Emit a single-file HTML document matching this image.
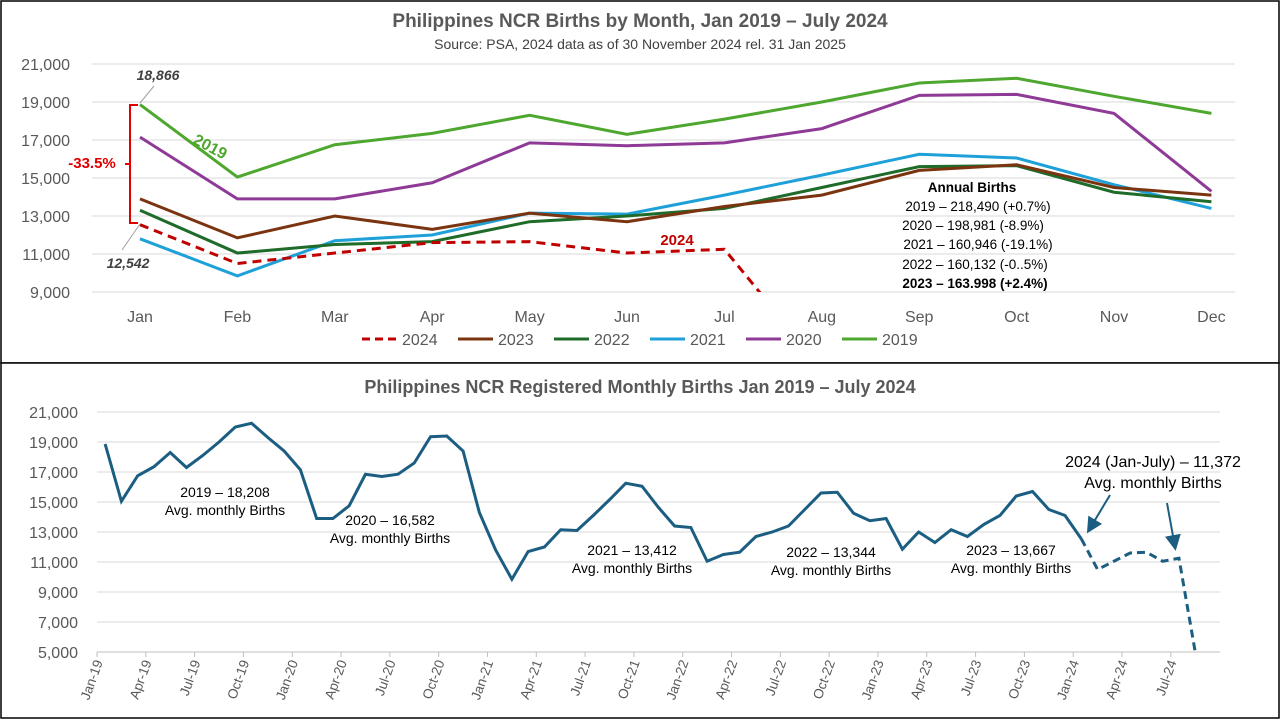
<!DOCTYPE html>
<html><head><meta charset="utf-8"><style>
body{margin:0;background:#fff;font-family:"Liberation Sans",sans-serif}
svg text{font-family:"Liberation Sans",sans-serif}
</style></head><body>
<svg id="s" width="1280" height="720" xmlns="http://www.w3.org/2000/svg">
<rect x="1" y="1" width="1278" height="362" fill="#fff" stroke="#000" stroke-width="1.5"/>
<rect x="1" y="363" width="1278" height="355" fill="#fff" stroke="#000" stroke-width="1.5"/>
<g id="top"></g><g id="bot"></g>
</svg>
<script>
const months=["Jan","Feb","Mar","Apr","May","Jun","Jul","Aug","Sep","Oct","Nov","Dec"];
const topTicks=[9000,11000,13000,15000,17000,19000,21000];
const y2019=[18866,15050,16750,17350,18300,17300,18100,19000,20000,20250,19300,18400];
const y2020=[17150,13900,13900,14750,16850,16700,16850,17600,19350,19400,18400,14300];
const y2021=[11800,9850,11700,12000,13150,13100,14100,15150,16250,16050,14650,13400];
const y2022=[13300,11050,11500,11650,12700,13000,13400,14500,15600,15650,14250,13750];
const y2023=[13900,11850,13000,12300,13150,12700,13500,14100,15400,15700,14500,14100];
const y2024=[12542,10500,11050,11600,11650,11050,11250,5000];
const botTicks=[5000,7000,9000,11000,13000,15000,17000,19000,21000];
const NS="http://www.w3.org/2000/svg";
function el(p,t,a,txt){const e=document.createElementNS(NS,t);for(const k in a)e.setAttribute(k,a[k]);if(txt!==undefined)e.textContent=txt;p.appendChild(e);return e;}
const T=document.getElementById('top'),B=document.getElementById('bot');
const tx=i=>140+i*97.4, ty=v=>292-(v-9000)*0.019;
el(T,'text',{x:640,y:27,'text-anchor':'middle','font-size':19,'font-weight':'bold',fill:'#595959',},'Philippines NCR Births by Month, Jan 2019 – July 2024');
el(T,'text',{x:640,y:49,'text-anchor':'middle','font-size':14,fill:'#404040',},'Source: PSA, 2024 data as of 30 November 2024 rel. 31 Jan 2025');
topTicks.forEach(v=>{
 const g=el(T,'line',{x1:92,x2:1235,y1:ty(v),y2:ty(v),stroke:'#d9d9d9'});
 
 const t=el(T,'text',{x:70,y:ty(v)+6,'text-anchor':'end','font-size':16,fill:'#595959'},v.toLocaleString('en-US'));
 
});
months.forEach((m,i)=>{const t=el(T,'text',{x:tx(i),y:322,'text-anchor':'middle','font-size':16,fill:'#595959'},m);
 });
const defs=el(document.getElementById('s'),'defs',{});
const cp=el(defs,'clipPath',{id:'ct'});el(cp,'rect',{x:80,y:55,width:1160,height:237});
const cp2=el(defs,'clipPath',{id:'cb'});el(cp2,'rect',{x:80,y:400,width:1160,height:252});
const series=[["2019",y2019,"#4ea72e",false],["2020",y2020,"#8e3a96",false],["2021",y2021,"#1ea0d8",false],["2022",y2022,"#1e6b2a",false],["2023",y2023,"#7b3410",false],["2024",y2024,"#c00000",true]];
series.forEach(s=>{
 const p=el(T,'polyline',{points:s[1].map((v,i)=>tx(i)+','+ty(v)).join(' '),fill:'none',stroke:s[2],'stroke-width':3,'stroke-dasharray':s[3]?'9,6':'none','clip-path':'url(#ct)'});
 
});
const leg=[["2024","#c00000",true],["2023","#7b3410"],["2022","#1e6b2a"],["2021","#1ea0d8"],["2020","#8e3a96"],["2019","#4ea72e"]];
leg.forEach((l,i)=>{const x0=362+i*96;
 const a=el(T,'line',{x1:x0,x2:x0+35,y1:339,y2:339,stroke:l[1],'stroke-width':3,'stroke-dasharray':l[2]?'8,5':'none'});
 
 const t=el(T,'text',{x:x0+40,y:345,'font-size':16,fill:'#595959'},l[0]);
 });
el(T,'text',{x:158,y:80,'text-anchor':'middle','font-size':14,'font-weight':'bold','font-style':'italic',fill:'#404040',},'18,866');
el(T,'line',{x1:140,y1:103,x2:154,y2:86,stroke:'#a0a0a0',});
el(T,'text',{x:128,y:268,'text-anchor':'middle','font-size':14,'font-weight':'bold','font-style':'italic',fill:'#404040',},'12,542');
el(T,'line',{x1:140,y1:224,x2:122,y2:250,stroke:'#a0a0a0',});
el(T,'path',{d:'M138,105 H130 V223 H138 M130,164 H125',fill:'none',stroke:'#e00000','stroke-width':2,});
el(T,'text',{x:92,y:168,'text-anchor':'middle','font-size':15,'font-weight':'bold',fill:'#e00000',},'-33.5%');
el(T,'text',{x:192,y:143,'font-size':16,'font-weight':'bold',fill:'#4ea72e',transform:'rotate(28 192 143)',},'2019');
el(T,'text',{x:677,y:245,'text-anchor':'middle','font-size':15,'font-weight':'bold',fill:'#c00000',},'2024');
const ann=[["Annual Births",972,192,true],["2019 – 218,490 (+0.7%)",978,211],["2020 – 198,981 (-8.9%)",973,230],["2021 – 160,946 (-19.1%)",978,249],["2022 – 160,132 (-0..5%)",975,269],["2023 – 163.998 (+2.4%)",975,288,true]];
ann.forEach(a=>{const t=el(T,'text',{x:a[1],y:a[2],'text-anchor':'middle','font-size':13.5,'font-weight':a[3]?'bold':'normal',fill:'#000'},a[0]);
 });
const all=[].concat(y2019,y2020,y2021,y2022,y2023,y2024);
const bx=i=>97+(i+0.5)*16.27, by=v=>652-(v-5000)*0.015;
el(B,'text',{x:640,y:393,'text-anchor':'middle','font-size':18,'font-weight':'bold',fill:'#595959',},'Philippines NCR Registered Monthly Births Jan 2019 – July 2024');
botTicks.forEach(v=>{
 const g=el(B,'line',{x1:97,x2:1220,y1:by(v),y2:by(v),stroke:v===5000?'#bfbfbf':'#d9d9d9'});
 
 const t=el(B,'text',{x:78,y:by(v)+6,'text-anchor':'end','font-size':16,fill:'#595959'},v.toLocaleString('en-US'));
 
});
const mab=["Jan","Apr","Jul","Oct"];
for(let k=0;k<=22;k++){const i=k*3;const x=97+i*16.27;
 const tk=el(B,'line',{x1:x,x2:x,y1:652,y2:657,stroke:'#bfbfbf'});
 
 const lab=mab[k%4]+'-'+(19+Math.floor(i/12));
 const t=el(B,'text',{x:x+6,y:662,'text-anchor':'end','font-size':13.5,fill:'#595959',transform:'rotate(-70 '+(x+6)+' 662)'},lab);
 }
const solid=all.slice(0,61), dash=all.slice(60);
const p1=el(B,'polyline',{points:solid.map((v,i)=>bx(i)+','+by(v)).join(' '),fill:'none',stroke:'#1b5e82','stroke-width':3,'clip-path':'url(#cb)'});

const p2=el(B,'polyline',{points:dash.map((v,i)=>bx(i+60)+','+by(v)).join(' '),fill:'none',stroke:'#1b5e82','stroke-width':3,'stroke-dasharray':'8,5','clip-path':'url(#cb)'});

const avg=[["2019 – 18,208",225,497],["2020 – 16,582",390,525],["2021 – 13,412",632,555],["2022 – 13,344",831,557],["2023 – 13,667",1011,555]];
avg.forEach(a=>{const t=el(B,'text',{x:a[1],y:a[2],'text-anchor':'middle','font-size':14,fill:'#000'},a[0]);
 
 const t2=el(B,'text',{x:a[1],y:a[2]+18,'text-anchor':'middle','font-size':14,fill:'#000'},'Avg. monthly Births');
 });
el(B,'text',{x:1153,y:467,'text-anchor':'middle','font-size':16,fill:'#000',},'2024 (Jan-July) – 11,372');
el(B,'text',{x:1153,y:488,'text-anchor':'middle','font-size':16,fill:'#000',},'Avg. monthly Births');
el(defs,'marker',{id:'ar',markerWidth:8,markerHeight:8,refX:6,refY:4,orient:'auto'}).appendChild(document.createElementNS(NS,'path')).setAttribute('d','M0,0 L8,4 L0,8 Z');
document.querySelector('#ar path').setAttribute('fill','#1b5e82');
el(B,'line',{x1:1110,y1:495,x2:1089,y2:530,stroke:'#1b5e82','stroke-width':2,'marker-end':'url(#ar)',});
el(B,'line',{x1:1167,y1:503,x2:1175,y2:547,stroke:'#1b5e82','stroke-width':2,'marker-end':'url(#ar)',});
</script>
</body></html>
